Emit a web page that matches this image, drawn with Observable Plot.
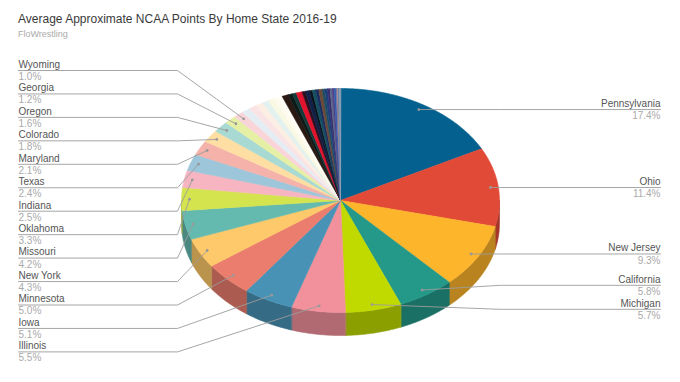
<!DOCTYPE html>
<html><head><meta charset="utf-8">
<script src="https://cdn.jsdelivr.net/npm/d3@7"></script>
<script src="https://cdn.jsdelivr.net/npm/@observablehq/plot@0.6"></script>
<style>
body{margin:0;background:#fff;font-family:"Liberation Sans",Arial,Helvetica,sans-serif;}
#wrap{width:680px;height:382px;position:relative;overflow:hidden;background:#fff}
#head{height:42px;position:relative}
#title{position:absolute;left:18px;top:12.5px;font-size:12px;line-height:12px;color:#3a3a3a;white-space:nowrap}
#sub{position:absolute;left:18px;top:29.7px;font-size:9px;line-height:9px;color:#aaa;white-space:nowrap}
#chart svg{display:block}
</style></head><body>
<div id="wrap">
  <div id="head"><div id="title">Average Approximate NCAA Points By Home State 2016-19</div><div id="sub">FloWrestling</div></div>
  <div id="chart"></div>
</div>
<script>
// ---- data (percent of points, clockwise from 12 o'clock) ----
const states = ["Pennsylvania","Ohio","New Jersey","California","Michigan","Illinois","Iowa","Minnesota","New York","Missouri","Oklahoma","Indiana","Texas","Maryland","Colorado","Oregon","Georgia","Wyoming"];
const shares = [17.4,11.4,9.3,5.8,5.7,5.5,5.1,5.0,4.3,4.2,3.3,2.5,2.4,2.1,1.8,1.6,1.2,1.0];
// remaining unlabelled states
const otherShares = [0.9,0.8,0.7,0.7,0.6,0.5,0.4,
  0.65,0.45,0.4,0.6,0.35,0.4,0.3,0.35,0.3,0.35,0.25,0.3,0.25,0.2,0.2,0.2,0.15,0.1,0.1,0.1];

// ---- palette ----
const stateColors = ["#04618f","#e24a38","#fdb52b","#24998a","#c0da00","#f2919b","#4893b5","#ea7d6e","#fec96a","#65bab0","#d4e44f","#f6b5c0","#9dc6da","#f4b2aa","#fedea3","#a8dad3","#e6f0a4","#f9d4d9"];
const otherColors = ["#e4edf3","#fae3e5","#fdeee3","#e3f1ef","#f9f8e2","#fefbee","#fffef8",
  "#2a1812","#0e1a18","#123a3a","#e3122d","#2a0f1f","#10204a","#0a1420","#155060","#1a2c60","#6b4a3a","#1e4e5e","#20407a","#3a2c70","#5a6c86","#54408a","#2f5caa","#7b70a8","#b09a72","#4a72b8","#9aa4b4"];

// ---- layout ----
const W = 680, H = 340, TOP = 42;
const CX = 340, CY = 200, R = 159, TILT = 112/159, DEPTH = 23;
const u = px => (px - CX) / R;
const v = py => (CY - py) / R;
const toPx = (x, y) => [CX + x * R, CY - y * R];

const slices = states.map((name, i) => ({name, share: shares[i], color: stateColors[i], labelled: true}))
  .concat(otherShares.map((s, i) => ({name: "other" + i, share: s, color: otherColors[i], labelled: false})));
const total = d3.sum(slices, d => d.share);
let cum = 0;
slices.forEach(d => {
  d.a0 = cum / total * 2 * Math.PI; cum += d.share;
  d.a1 = cum / total * 2 * Math.PI; d.mid = (d.a0 + d.a1) / 2;
});

const arc = (a0, a1, dv = 0) => {
  const n = Math.max(2, Math.ceil((a1 - a0) / (Math.PI / 360)));
  return d3.range(n + 1).map(k => { const a = a0 + (a1 - a0) * k / n; return [Math.sin(a), Math.cos(a) * TILT + dv]; });
};

const topPts = [], sidePts = [];
slices.forEach((d, i) => {
  [[0, 0], ...arc(d.a0, d.a1)].forEach(p => topPts.push({id: i, x: p[0], y: p[1], c: d.color}));
  const b0 = Math.max(d.a0, Math.PI / 2), b1 = Math.min(d.a1, 3 * Math.PI / 2);
  if (b1 > b0) {
    const sc = d3.color(d.color).darker(0.88).formatHex();
    const pts = arc(b0, b1).concat(arc(b0, b1, -DEPTH / R).reverse());
    pts.forEach(p => sidePts.push({id: i, x: p[0], y: p[1], c: sc}));
  }
});

// ---- labels ----
const labels = slices.filter(d => d.labelled).map(d => {
  const [px, py] = toPx(0.95 * Math.sin(d.mid), 0.95 * Math.cos(d.mid) * TILT);
  return {name: d.name, pct: d.share.toFixed(1) + "%", side: d.mid > Math.PI ? "left" : "right", px, py, mid: d.mid};
});
const left = labels.filter(d => d.side === "left").sort((a, b) => b.mid - a.mid);
left.forEach((d, i) => d.ly = 70 + i * 23.45);
const right = labels.filter(d => d.side === "right").sort((a, b) => a.py - b.py);
right.forEach(d => d.ly = d.py);
for (let pass = 0; pass < 20; pass++) {
  for (let i = 1; i < right.length; i++) {
    const gap = right[i].ly - right[i - 1].ly;
    if (gap < 24) { const s = (24 - gap) / 2; right[i - 1].ly -= s; right[i].ly += s; }
  }
}
const leaderPts = [];
left.forEach(d => [[18, d.ly], [177, d.ly], [d.px, d.py]].forEach(p => leaderPts.push({name: d.name, x: u(p[0]), y: v(p[1])})));
right.forEach(d => [[d.px, d.py], [Math.max(d.px, 500), d.ly], [660, d.ly]].forEach(p => leaderPts.push({name: d.name, x: u(p[0]), y: v(p[1])})));

const font = "'Liberation Sans', Arial, Helvetica, sans-serif";
const chart = Plot.plot({
  width: W, height: H, margin: 0,
  x: {domain: [u(0), u(W)], axis: null},
  y: {domain: [v(TOP + H), v(TOP)], axis: null},
  style: {fontFamily: font, background: "#fff", overflow: "visible"},
  marks: [
    Plot.line(sidePts, {x: "x", y: "y", z: "id", fill: "c", stroke: "c", strokeWidth: 0.6, curve: "linear-closed"}),
    Plot.line(topPts, {x: "x", y: "y", z: "id", fill: "c", stroke: "c", strokeWidth: 0.6, curve: "linear-closed"}),
    Plot.line(leaderPts, {x: "x", y: "y", z: "name", stroke: "#9c9c9c", strokeWidth: 0.9}),
    Plot.dot(labels, {x: d => u(d.px), y: d => v(d.py), r: 1.4, fill: "#999", stroke: "none"}),
    Plot.text(left, {x: u(18), y: d => v(d.ly), text: "name", textAnchor: "start", dy: -5.9, fontSize: 10, fill: "#555"}),
    Plot.text(left, {x: u(18), y: d => v(d.ly), text: "pct", textAnchor: "start", dy: 6.2, fontSize: 10, fill: "#aaa"}),
    Plot.text(right, {x: u(660), y: d => v(d.ly), text: "name", textAnchor: "end", dy: -5.9, fontSize: 10, fill: "#555"}),
    Plot.text(right, {x: u(660), y: d => v(d.ly), text: "pct", textAnchor: "end", dy: 6.4, fontSize: 10, fill: "#aaa"})
  ]
});
document.getElementById("chart").appendChild(chart);
</script>
</body></html>
